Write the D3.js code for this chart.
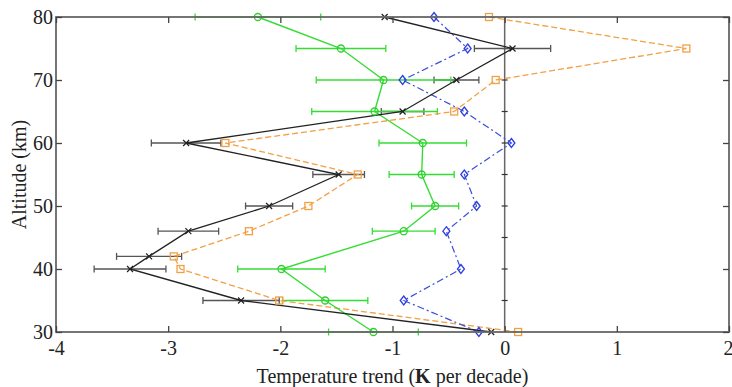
<!DOCTYPE html>
<html><head><meta charset="utf-8">
<script src="https://cdn.jsdelivr.net/npm/d3@7"></script>
<style>body{margin:0;background:#fff}svg{display:block}
svg text{font-family:"Liberation Serif","Times New Roman",Times,serif}</style>
</head><body>
<svg id="c" width="732" height="387"></svg>
<script>
// ---- data ----
const xTicks = [-4,-3,-2,-1,0,1,2];
const yTicks = [30,40,50,60,70,80];
const blackAlt = [80,75,70,65,60,55,50,46,42,40,35,30];
const blackVal = [-1.07,0.07,-0.43,-0.91,-2.84,-1.48,-2.10,-2.82,-3.17,-3.34,-2.35,-0.12];
const blackErr = [0,0.34,0.20,0.19,0.31,0.23,0.21,0.27,0.29,0.32,0.34,0];
const orangeAlt = [80,75,70,65,60,55,50,46,42,40,35,30];
const orangeVal = [-0.14,1.62,-0.08,-0.45,-2.49,-1.31,-1.75,-2.28,-2.95,-2.89,-2.01,0.12];
const blueAlt = [80,75,70,65,60,55,50,46,40,35,30];
const blueVal = [-0.63,-0.33,-0.91,-0.36,0.06,-0.36,-0.25,-0.52,-0.39,-0.90,-0.23];
const greenAlt = [80,75,70,65,60,55,50,46,40,35,30];
const greenVal = [-2.20,-1.46,-1.08,-1.16,-0.73,-0.74,-0.62,-0.90,-1.99,-1.60,-1.17];
const greenErr = [0.56,0.40,0.60,0.56,0.39,0.29,0.21,0.28,0.39,0.38,0.40];

(function(){
const svg = d3.select('#c');
const x = d3.scaleLinear().domain([-4,2]).range([56,729]);
const y = d3.scaleLinear().domain([30,80]).range([332,17]);
const axisCol = '#666';

const g = svg.append('g');

// zero line with small ticks every 5 km
g.append('line').attr('x1',x(0)).attr('x2',x(0)).attr('y1',y(30)).attr('y2',y(80))
  .attr('stroke',axisCol).attr('stroke-width',1.5);
d3.range(35,80,5).forEach(a=>{
  g.append('line').attr('x1',x(0)-3).attr('x2',x(0)+3).attr('y1',y(a)).attr('y2',y(a))
   .attr('stroke','#333').attr('stroke-width',1.2);
});

function errBars(alt, val, err, col, w){
  const eb = g.append('g').attr('stroke',col).attr('stroke-width',w).attr('fill','none');
  alt.forEach((a,i)=>{
    if(!err[i]) return;
    const x0 = x(val[i]-err[i]), x1 = x(val[i]+err[i]), yy = y(a);
    eb.append('line').attr('x1',x0).attr('x2',x1).attr('y1',yy).attr('y2',yy);
    eb.append('line').attr('x1',x0).attr('x2',x0).attr('y1',yy-3.5).attr('y2',yy+3.5);
    eb.append('line').attr('x1',x1).attr('x2',x1).attr('y1',yy-3.5).attr('y2',yy+3.5);
  });
}
function series(alt, val, col, w, dash){
  const line = d3.line().x((d,i)=>x(val[i])).y(d=>y(d));
  g.append('path').datum(alt).attr('d',line).attr('fill','none')
    .attr('stroke',col).attr('stroke-width',w).attr('stroke-dasharray',dash||null);
}

errBars(blackAlt, blackVal, blackErr, '#555', 1.3);
errBars(greenAlt, greenVal, greenErr, '#33dd33', 1.3);

series(orangeAlt, orangeVal, '#f2a045', 1.3, '6,3');
series(blueAlt, blueVal, '#3a4fd8', 1.2, '7,3,2,3');
series(greenAlt, greenVal, '#33dd33', 1.4);
series(blackAlt, blackVal, '#222', 1.3);

// markers
orangeAlt.forEach((a,i)=>{
  g.append('rect').attr('x',x(orangeVal[i])-3.5).attr('y',y(a)-3.5).attr('width',7).attr('height',7)
   .attr('fill','none').attr('stroke','#f2a045').attr('stroke-width',1.3);
});
blueAlt.forEach((a,i)=>{
  const cx=x(blueVal[i]), cy=y(a);
  g.append('path').attr('d',`M${cx},${cy-4.5}L${cx+3.5},${cy}L${cx},${cy+4.5}L${cx-3.5},${cy}Z`)
   .attr('fill','none').attr('stroke','#2c3fe0').attr('stroke-width',1.3);
});
greenAlt.forEach((a,i)=>{
  g.append('circle').attr('cx',x(greenVal[i])).attr('cy',y(a)).attr('r',3.5)
   .attr('fill','none').attr('stroke','#2fcf2f').attr('stroke-width',1.3);
});
blackAlt.forEach((a,i)=>{
  const cx=x(blackVal[i]), cy=y(a);
  g.append('path').attr('d',`M${cx-3},${cy-3}L${cx+3},${cy+3}M${cx-3},${cy+3}L${cx+3},${cy-3}`)
   .attr('stroke','#222').attr('stroke-width',1.2);
});

// frame and axes
const ax = svg.append('g');
ax.append('rect').attr('x',x(-4)).attr('y',y(80)).attr('width',x(2)-x(-4)).attr('height',y(30)-y(80))
  .attr('fill','none').attr('stroke',axisCol).attr('stroke-width',1.8);

const fmt = d => String(d);
const axB = ax.append('g').attr('transform',`translate(0,${y(30)})`)
  .call(d3.axisBottom(x).tickValues(xTicks).tickSize(-6).tickPadding(9).tickFormat(fmt));
const axT = ax.append('g').attr('transform',`translate(0,${y(80)})`)
  .call(d3.axisTop(x).tickValues(xTicks).tickSize(-6).tickFormat(''));
const axL = ax.append('g').attr('transform',`translate(${x(-4)},0)`)
  .call(d3.axisLeft(y).tickValues(yTicks).tickSize(-6).tickPadding(3).tickFormat(fmt));
const axR = ax.append('g').attr('transform',`translate(${x(2)},0)`)
  .call(d3.axisRight(y).tickValues(yTicks).tickSize(-6).tickFormat(''));
[axB,axT,axL,axR].forEach(a=>{
  a.attr('font-family',null);
  a.select('.domain').remove();
  a.selectAll('.tick line').attr('stroke','#444').attr('stroke-width',1.3);
  a.selectAll('text').attr('font-size',20).attr('fill','#222');
});
// keep the last x label inside the picture
axB.selectAll('.tick').filter(d=>d===2).select('text').attr('text-anchor','end').attr('x',4);

// labels
svg.append('text').attr('x',x(-1)).attr('y',383).attr('text-anchor','middle')
  .attr('font-size',20).attr('fill','#222')
  .html('Temperature trend (<tspan font-weight="bold">K</tspan> per decade)');
svg.append('text').attr('transform',`translate(26,${y(55)}) rotate(-90)`).attr('text-anchor','middle')
  .attr('font-size',20).attr('fill','#222').text('Altitude (km)');
})();
</script>
</body></html>
